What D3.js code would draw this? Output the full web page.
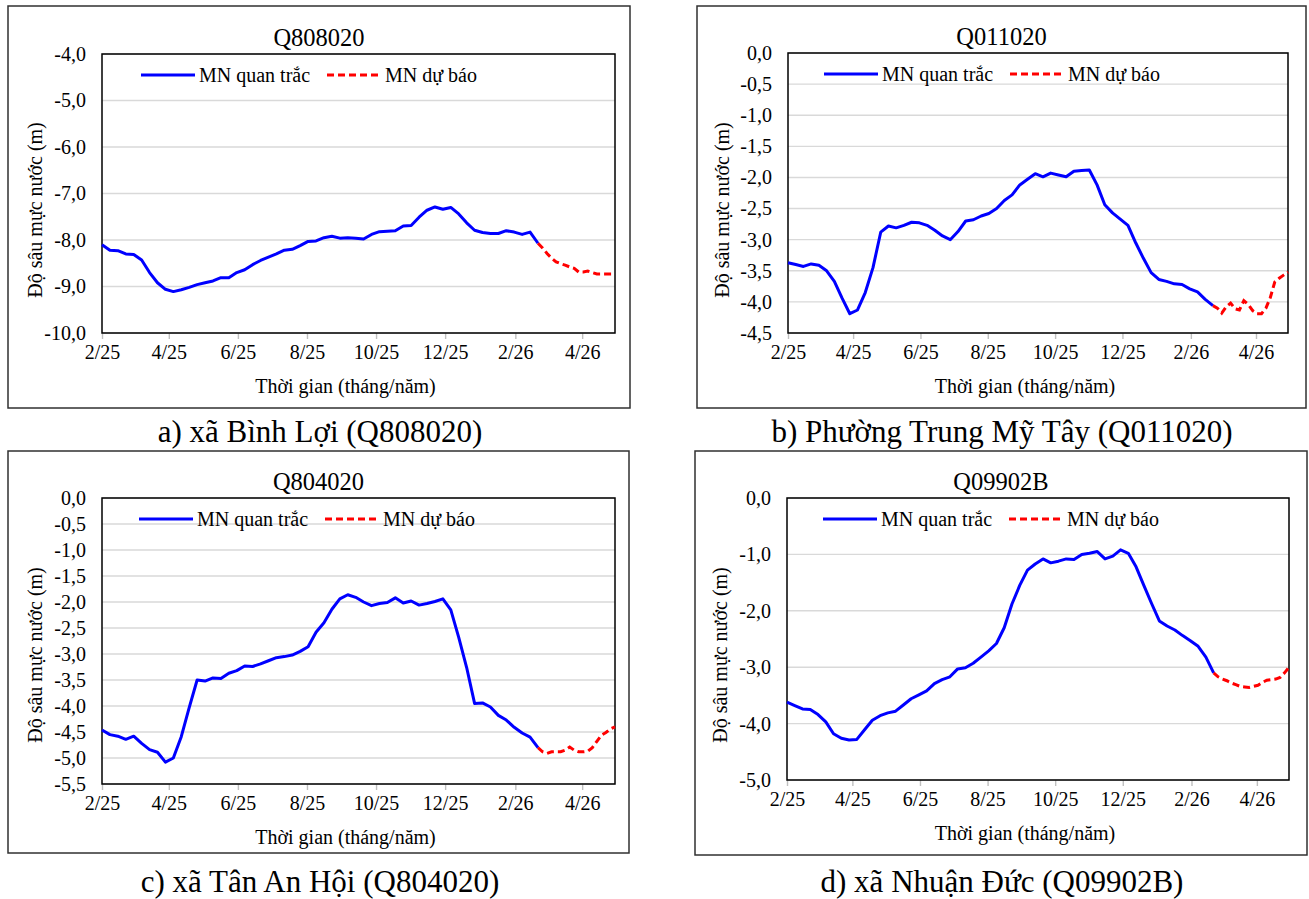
<!DOCTYPE html>
<html>
<head>
<meta charset="utf-8">
<script src="https://cdn.jsdelivr.net/npm/d3@7"></script>
<style>
  body { margin: 0; background: #fff; }
</style>
</head>
<body>
<div id="chart"></div>
<script>
var FONT = "'Liberation Serif', 'Times New Roman', serif"

// weekly observation dates (shared by the four wells)
var obsDates = ["2025-02-01", "2025-02-08", "2025-02-15", "2025-02-22", "2025-03-01", "2025-03-08", "2025-03-15", "2025-03-22",
  "2025-03-29", "2025-04-05", "2025-04-12", "2025-04-19", "2025-04-26", "2025-05-03", "2025-05-10", "2025-05-17",
  "2025-05-24", "2025-05-31", "2025-06-07", "2025-06-14", "2025-06-21", "2025-06-28", "2025-07-05", "2025-07-12",
  "2025-07-19", "2025-07-26", "2025-08-02", "2025-08-09", "2025-08-16", "2025-08-23", "2025-08-30", "2025-09-06",
  "2025-09-13", "2025-09-20", "2025-09-27", "2025-10-04", "2025-10-11", "2025-10-18", "2025-10-25", "2025-11-01",
  "2025-11-08", "2025-11-15", "2025-11-22", "2025-11-29", "2025-12-06", "2025-12-13", "2025-12-20", "2025-12-27",
  "2026-01-03", "2026-01-10", "2026-01-17", "2026-01-24", "2026-01-31", "2026-02-07", "2026-02-14", "2026-02-21"]

// forecast dates
var fcDates = ["2026-02-21", "2026-02-25", "2026-03-01", "2026-03-05", "2026-03-09", "2026-03-13", "2026-03-17", "2026-03-21",
  "2026-03-25", "2026-03-29", "2026-04-02", "2026-04-06", "2026-04-10", "2026-04-14", "2026-04-18", "2026-04-22",
  "2026-04-26", "2026-04-30"]

var tickDates = ["2025-02-01", "2025-04-01", "2025-06-01", "2025-08-01", "2025-10-01", "2025-12-01", "2026-02-01", "2026-04-01"]
var xDomain = ["2025-02-01", "2026-04-30"]

var stations = ["Q808020", "Q011020", "Q804020", "Q09902B"]
var captions = ["a) xã Bình Lợi (Q808020)", "b) Phường Trung Mỹ Tây (Q011020)", "c) xã Tân An Hội (Q804020)", "d) xã Nhuận Đức (Q09902B)"]
var yDomains = [[-10, -4], [-4.5, 0], [-5.5, 0], [-5, 0]]
var ySteps = [1, 0.5, 0.5, 1]

var obsA = [-8.10, -8.22, -8.23, -8.30, -8.31, -8.43, -8.70, -8.92, -9.06, -9.11,
  -9.07, -9.02, -8.96, -8.92, -8.88, -8.81, -8.81, -8.70, -8.64, -8.53,
  -8.44, -8.37, -8.30, -8.22, -8.20, -8.12, -8.03, -8.02, -7.95, -7.92,
  -7.96, -7.95, -7.96, -7.98, -7.88, -7.82, -7.81, -7.80, -7.70, -7.69,
  -7.51, -7.36, -7.29, -7.34, -7.30, -7.44, -7.63, -7.79, -7.84, -7.86,
  -7.86, -7.80, -7.83, -7.88, -7.83, -8.07]
var fcA = [-8.07, -8.17, -8.29, -8.39, -8.47, -8.51, -8.54, -8.58, -8.61, -8.69, -8.69, -8.67, -8.70, -8.73, -8.73, -8.73, -8.73, -8.73]

var obsB = [-3.37, -3.40, -3.43, -3.39, -3.41, -3.50, -3.67, -3.94, -4.19, -4.13,
  -3.85, -3.45, -2.88, -2.78, -2.81, -2.77, -2.72, -2.73, -2.77, -2.85,
  -2.94, -3.00, -2.87, -2.70, -2.68, -2.62, -2.58, -2.50, -2.37, -2.28,
  -2.12, -2.03, -1.94, -1.99, -1.93, -1.96, -1.99, -1.90, -1.89, -1.88,
  -2.12, -2.44, -2.57, -2.67, -2.77, -3.05, -3.30, -3.53, -3.64, -3.67,
  -3.71, -3.72, -3.79, -3.84, -3.96, -4.06]
var fcB = [-4.06, -4.10, -4.18, -4.08, -4.02, -4.11, -4.13, -3.98, -4.04, -4.14, -4.19, -4.19, -4.10, -3.93, -3.68, -3.62, -3.57, -3.52]

var obsC = [-4.46, -4.55, -4.58, -4.64, -4.58, -4.72, -4.84, -4.89, -5.08, -5.00,
  -4.59, -4.03, -3.50, -3.52, -3.46, -3.47, -3.37, -3.32, -3.23, -3.24,
  -3.19, -3.13, -3.07, -3.05, -3.02, -2.95, -2.86, -2.58, -2.40, -2.14,
  -1.94, -1.86, -1.91, -2.00, -2.07, -2.03, -2.01, -1.92, -2.02, -1.98,
  -2.06, -2.03, -1.99, -1.94, -2.15, -2.68, -3.26, -3.95, -3.94, -4.02,
  -4.18, -4.27, -4.41, -4.52, -4.60, -4.80]
var fcC = [-4.80, -4.88, -4.91, -4.88, -4.88, -4.88, -4.85, -4.79, -4.85, -4.88, -4.88, -4.87, -4.80, -4.68, -4.56, -4.51, -4.44, -4.40]

var obsD = [-3.62, -3.68, -3.74, -3.75, -3.84, -3.97, -4.18, -4.26, -4.29, -4.28,
  -4.11, -3.94, -3.86, -3.81, -3.78, -3.67, -3.56, -3.49, -3.42, -3.29,
  -3.22, -3.17, -3.03, -3.01, -2.93, -2.82, -2.71, -2.58, -2.30, -1.88,
  -1.55, -1.28, -1.17, -1.08, -1.15, -1.12, -1.08, -1.09, -1.00, -0.98,
  -0.95, -1.08, -1.03, -0.92, -0.98, -1.22, -1.55, -1.87, -2.18, -2.27,
  -2.34, -2.44, -2.53, -2.63, -2.82, -3.10]
var fcD = [-3.10, -3.17, -3.21, -3.24, -3.28, -3.31, -3.34, -3.35, -3.36, -3.34, -3.32, -3.27, -3.23, -3.22, -3.21, -3.18, -3.10, -3.00]

var obsSeries = [obsA, obsB, obsC, obsD]
var fcSeries = [fcA, fcB, fcC, fcD]

// layout of each panel: outer frame and plot box
var panels = [
  { frame: [8, 6, 622, 402], plot: [102, 54, 615, 333], cap: [320, 431], yTitleX: 35, legX: 141 },
  { frame: [697, 6, 609, 402], plot: [788, 53, 1288, 333], cap: [1002, 431], yTitleX: 722, legX: 824 },
  { frame: [8, 451, 621, 402], plot: [102, 498, 615, 784], cap: [320, 881], yTitleX: 35, legX: 139 },
  { frame: [695, 451, 612, 404], plot: [787, 498, 1289, 780], cap: [1002, 881], yTitleX: 720, legX: 823 }
]

var parse = d3.timeParse("%Y-%m-%d")
var fmtX = d3.timeFormat("%-m/%y")
var vn = d3.formatLocale({ decimal: ",", thousands: ".", grouping: [3], currency: ["", ""], minus: "-" })
var fmtY = vn.format(".1f")

var svg = d3.select("#chart").append("svg")
  .attr("width", 1309)
  .attr("height", 899)
  .style("font-family", FONT)

panels.forEach(function (p, i) {
  var g = svg.append("g")
  var L = p.plot[0], T = p.plot[1], R = p.plot[2], B = p.plot[3]

  g.append("rect")
    .attr("x", p.frame[0]).attr("y", p.frame[1])
    .attr("width", p.frame[2]).attr("height", p.frame[3])
    .attr("fill", "#fff").attr("stroke", "#303030").attr("stroke-width", 1.5)

  var x = d3.scaleTime()
    .domain(xDomain.map(parse))
    .range([L, R])

  var y = d3.scaleLinear()
    .domain(yDomains[i])
    .range([B, T])

  var yTicks = d3.range(yDomains[i][0], yDomains[i][1] + ySteps[i] / 2, ySteps[i])

  // gridlines
  g.selectAll(".grid")
    .data(yTicks)
    .enter().append("line")
    .attr("x1", L).attr("x2", R)
    .attr("y1", d => y(d)).attr("y2", d => y(d))
    .attr("stroke", "#d9d9d9").attr("stroke-width", 1.4)

  // y axis labels
  var yAxis = d3.axisLeft(y).tickValues(yTicks).tickFormat(fmtY).tickSize(0).tickPadding(16)
  var ya = g.append("g").attr("transform", "translate(" + L + ",0)").call(yAxis)
  ya.select(".domain").remove()
  ya.attr("font-family", null).attr("font-size", null)
  ya.selectAll("text").style("font-size", "20px").attr("fill", "#000")

  // x axis labels and small ticks under the plot
  var xAxis = d3.axisBottom(x).tickValues(tickDates.map(parse)).tickFormat(fmtX).tickSize(6).tickPadding(6)
  var xa = g.append("g").attr("transform", "translate(0," + B + ")").call(xAxis)
  xa.select(".domain").remove()
  xa.attr("font-family", null).attr("font-size", null)
  xa.selectAll("line").attr("stroke", "#bfbfbf").attr("stroke-width", 1.4)
  xa.selectAll("text").style("font-size", "20px").attr("fill", "#000")

  // plot border
  g.append("rect")
    .attr("x", L).attr("y", T)
    .attr("width", R - L).attr("height", B - T)
    .attr("fill", "none").attr("stroke", "#000").attr("stroke-width", 1.5)

  var line = d3.line()
    .x(d => x(d.date))
    .y(d => y(d.value))

  var obs = obsDates.map((d, k) => ({ date: parse(d), value: obsSeries[i][k] }))
  var fc = fcDates.map((d, k) => ({ date: parse(d), value: fcSeries[i][k] }))

  g.append("path")
    .datum(obs)
    .attr("d", line)
    .attr("fill", "none").attr("stroke", "#0000ff").attr("stroke-width", 3)
    .attr("stroke-linejoin", "round")

  g.append("path")
    .datum(fc)
    .attr("d", line)
    .attr("fill", "none").attr("stroke", "#ff0000").attr("stroke-width", 3)
    .attr("stroke-dasharray", "7,4")

  // legend
  var ly = T + 21
  var leg = [
    { label: "MN quan trắc", color: "#0000ff", dash: null, x0: p.legX },
    { label: "MN dự báo", color: "#ff0000", dash: "7,4", x0: p.legX + 186 }
  ]
  leg.forEach(function (e) {
    g.append("line")
      .attr("x1", e.x0).attr("x2", e.x0 + 54)
      .attr("y1", ly).attr("y2", ly)
      .attr("stroke", e.color).attr("stroke-width", 3)
      .attr("stroke-dasharray", e.dash)
    g.append("text")
      .attr("x", e.x0 + 58).attr("y", ly)
      .attr("dy", "0.35em")
      .style("font-size", "20px")
      .text(e.label)
  })

  // chart title
  g.append("text")
    .attr("x", p.frame[0] + p.frame[2] / 2)
    .attr("y", T - 17)
    .attr("dy", "0.35em")
    .attr("text-anchor", "middle")
    .style("font-size", "24.5px")
    .text(stations[i])

  // axis titles
  g.append("text")
    .attr("x", (L + R) / 2 - 13)
    .attr("y", B + 53)
    .attr("dy", "0.35em")
    .attr("text-anchor", "middle")
    .style("font-size", "20px")
    .text("Thời gian (tháng/năm)")

  g.append("text")
    .attr("transform", "translate(" + p.yTitleX + "," + (p.frame[1] + 204) + ") rotate(-90)")
    .attr("dy", "0.35em")
    .attr("text-anchor", "middle")
    .style("font-size", "20px")
    .text("Độ sâu mực  nước (m)")

  // caption under the panel
  svg.append("text")
    .attr("x", p.cap[0]).attr("y", p.cap[1])
    .attr("dy", "0.35em")
    .attr("text-anchor", "middle")
    .style("font-size", "31px")
    .text(captions[i])
})

svg.selectAll("text").style("font-family", FONT)
</script>
</body>
</html>
